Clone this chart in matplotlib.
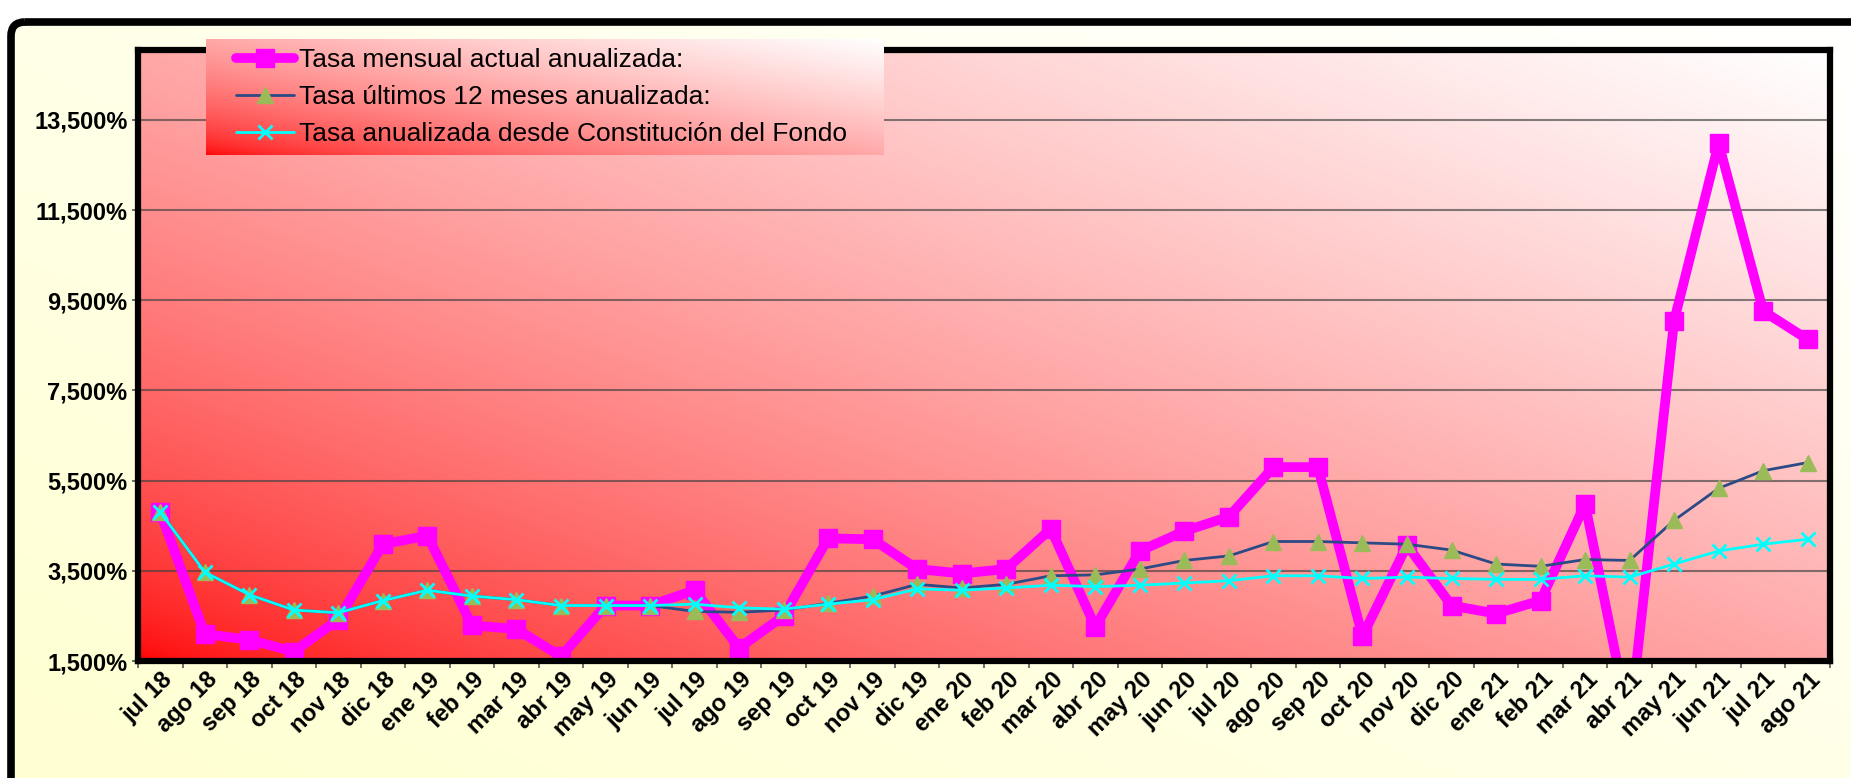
import numpy as np
import matplotlib
matplotlib.use('Agg')
import matplotlib.pyplot as plt
import matplotlib.transforms as mtransforms
from matplotlib.patches import FancyBboxPatch
from matplotlib.ticker import FuncFormatter

categories = ['jul 18', 'ago 18', 'sep 18', 'oct 18', 'nov 18', 'dic 18',
              'ene 19', 'feb 19', 'mar 19', 'abr 19', 'may 19', 'jun 19',
              'jul 19', 'ago 19', 'sep 19', 'oct 19', 'nov 19', 'dic 19',
              'ene 20', 'feb 20', 'mar 20', 'abr 20', 'may 20', 'jun 20',
              'jul 20', 'ago 20', 'sep 20', 'oct 20', 'nov 20', 'dic 20',
              'ene 21', 'feb 21', 'mar 21', 'abr 21', 'may 21', 'jun 21',
              'jul 21', 'ago 21']

tasa_mensual = [4.80, 2.10, 1.97, 1.71, 2.42, 4.09,
                4.28, 2.29, 2.21, 1.60, 2.73, 2.73, 3.07, 1.79, 2.50, 4.22, 4.20, 3.54,
                3.44, 3.54, 4.43, 2.26, 3.94, 4.38, 4.70, 5.80, 5.80, 2.05, 4.07, 2.73,
                2.55, 2.84, 4.98, 0.10, 9.05, 12.98, 9.26, 8.63]

tasa_12m = [4.80, 3.47, 2.97, 2.63, 2.57, 2.84,
            3.07, 2.94, 2.86, 2.73, 2.73, 2.73, 2.60, 2.58, 2.63, 2.78, 2.94, 3.20,
            3.12, 3.20, 3.39, 3.41, 3.54, 3.73, 3.83, 4.15, 4.15, 4.12, 4.09, 3.96,
            3.65, 3.60, 3.75, 3.73, 4.62, 5.33, 5.72, 5.90]

tasa_const = [4.80, 3.47, 2.97, 2.63, 2.57, 2.84,
              3.07, 2.94, 2.86, 2.73, 2.73, 2.73, 2.76, 2.68, 2.65, 2.76, 2.86, 3.10,
              3.07, 3.12, 3.18, 3.15, 3.18, 3.23, 3.28, 3.39, 3.39, 3.33, 3.36, 3.33,
              3.31, 3.31, 3.39, 3.36, 3.65, 3.94, 4.09, 4.20]

series_labels = ['Tasa mensual actual anualizada:',
                 'Tasa últimos 12 meses anualizada:',
                 'Tasa anualizada desde Constitución del Fondo']

yticks = [1.5, 3.5, 5.5, 7.5, 9.5, 11.5, 13.5]

FONT = 'Liberation Sans'
W, H = 1851, 778
fig = plt.figure(figsize=(W / 100, H / 100), dpi=100)
fig.patch.set_facecolor('white')


def red_gradient(nx=400, ny=200, power=0.6):
    u = np.linspace(0, 1, nx)[None, :]
    v = np.linspace(1, 0, ny)[:, None]
    s = (u + v) / 2.0
    w = s ** power
    img = np.ones((ny, nx, 3))
    img[..., 1] = w
    img[..., 2] = w
    return img


# ---- background with outer rounded frame ----
bg = fig.add_axes([0, 0, 1, 1], zorder=-5)
bg.set_xlim(0, W)
bg.set_ylim(H, 0)
bg.axis('off')
u = np.linspace(0, 1, 300)[None, :]
v = np.linspace(1, 0, 150)[:, None]
s = np.clip((u + v) / 2.0, 0, 1)
cream = np.ones((150, 300, 3))
cream[..., 2] = 0.82 + 0.18 * s
frame = FancyBboxPatch((11, 22), 2100, 1000,
                       boxstyle='round,pad=0,rounding_size=14',
                       ec='black', fc='none', lw=5.5, zorder=3)
bg.add_patch(frame)
im_bg = bg.imshow(cream, extent=(11, W, H, 22), aspect='auto', zorder=1,
                  interpolation='bilinear')
im_bg.set_clip_path(frame)
bg.set_xlim(0, W)
bg.set_ylim(H, 0)

# ---- main axes ----
L, R, T, B = 138, 1830, 50, 661
ax = fig.add_axes([L / W, (H - B) / H, (R - L) / W, (B - T) / H], zorder=1)
x = np.arange(len(categories))
ymin, ymax = 1.5, 15.05
ax.imshow(red_gradient(), extent=(-0.5, len(categories) - 0.5, ymin, ymax),
          aspect='auto', zorder=0, interpolation='bilinear')
ax.set_xlim(-0.5, len(categories) - 0.5)
ax.set_ylim(ymin, ymax)

for yv in yticks[1:]:
    ax.axhline(yv, color='#404040', alpha=0.65, lw=1.5, zorder=1)

l1, = ax.plot(x, tasa_mensual, color='#FF00FF', lw=7, marker='s', ms=13,
              mfc='#FF00FF', mec='#FF00FF', solid_capstyle='round',
              solid_joinstyle='round', zorder=3, label=series_labels[0])
l2, = ax.plot(x, tasa_12m, color='#2B4A86', lw=2, marker='^', ms=11,
              mfc='#9BBB59', mec='#9BBB59', solid_capstyle='round',
              zorder=4, label=series_labels[1])
l3, = ax.plot(x, tasa_const, color='#00FFFF', lw=2, marker='x', ms=10,
              mew=2, mec='#00FFFF', solid_capstyle='round',
              zorder=5, label=series_labels[2])

for sp in ax.spines.values():
    sp.set_linewidth(4.5)
    sp.set_color('black')
    sp.set_zorder(6)

ax.set_xticks(x)
ax.set_xticklabels(categories)
ax.set_xticks(np.arange(-0.5, len(categories), 1), minor=True)
ax.tick_params(axis='x', which='major', length=0, pad=11)
ax.tick_params(axis='x', which='minor', length=5, width=1.2, color='#555555',
               direction='out')
ax.set_yticks(yticks)
ax.yaxis.set_major_formatter(FuncFormatter(
    lambda v, p: f"{v:.3f}".replace('.', ',') + '%'))
ax.tick_params(axis='y', length=4, width=1.2, color='#555555', pad=3.6)
ax.tick_params(axis='y', which='minor', length=0)

offset = mtransforms.ScaledTranslation(9 / 100, 0, fig.dpi_scale_trans)
for lbl in ax.get_xticklabels():
    lbl.set_fontfamily(FONT)
    lbl.set_fontweight('bold')
    lbl.set_fontsize(17)
    lbl.set_rotation(45)
    lbl.set_ha('right')
    lbl.set_va('center')
    lbl.set_rotation_mode('anchor')
    lbl.set_transform(lbl.get_transform() + offset)
for lbl in ax.get_yticklabels():
    lbl.set_fontfamily(FONT)
    lbl.set_fontweight('bold')
    lbl.set_fontsize(17)

# ---- legend box with its own gradient ----
LL, LR, LT, LB = 206, 883, 39, 155
lax = fig.add_axes([LL / W, (H - LB) / H, (LR - LL) / W, (LB - LT) / H], zorder=10)
lax.imshow(red_gradient(), extent=(0, 1, 0, 1), aspect='auto',
           interpolation='bilinear')
lax.set_xlim(0, 1)
lax.set_ylim(0, 1)
lax.axis('off')
leg = lax.legend([l1, l2, l3], series_labels, loc='center left',
                 bbox_to_anchor=(30 / (LR - LL), 0.5), frameon=False,
                 prop={'family': FONT, 'size': 19}, handlelength=2.2,
                 handletextpad=0.2, labelspacing=0.5, borderpad=0,
                 borderaxespad=0, numpoints=1)

fig.savefig('out.png', dpi=100)
